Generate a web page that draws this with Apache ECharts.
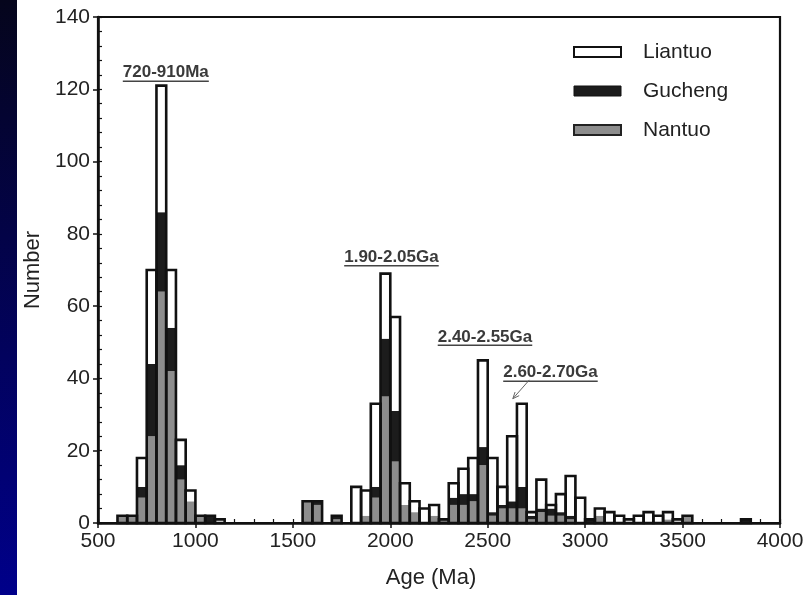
<!DOCTYPE html>
<html>
<head>
<meta charset="utf-8">
<script src="https://cdn.jsdelivr.net/npm/echarts@6/dist/echarts.min.js"></script>
<style>
  html, body { margin: 0; padding: 0; background: #ffffff; }
  #chart { width: 807px; height: 595px; }
</style>
</head>
<body>
<div id="chart"></div>
<script>
// Detrital zircon U-Pb age histogram, 50 Ma bins (bin start ages, Ma)
const binStarts = [600, 650, 700, 750, 800, 850, 900, 950, 1000, 1050,
                   1100, 1550, 1600, 1700, 1800, 1850, 1900, 1950, 2000, 2050,
                   2100, 2150, 2200, 2250, 2300, 2350, 2400, 2450, 2500, 2550,
                   2600, 2650, 2700, 2750, 2800, 2850, 2900, 2950, 3000, 3050,
                   3100, 3150, 3200, 3250, 3300, 3350, 3400, 3450, 3500, 3800];
const binWidth = 50;

// Counts per formation (stacked bottom to top: Nantuo, Gucheng, Liantuo)
const nantuo  = [2, 2, 7, 24, 64, 42, 12, 6, 2, 0,
                 0, 6, 5, 1, 0, 2, 7, 35, 17, 5,
                 3, 0, 2, 1, 5, 5, 6, 16, 2, 4,
                 4, 4, 1, 3, 2, 2, 1, 0, 0, 2,
                 0, 0, 0, 0, 0, 0, 1, 0, 2, 0];
const gucheng = [0, 0, 3, 20, 22, 12, 4, 0, 0, 2,
                 0, 0, 1, 1, 0, 0, 3, 16, 14, 0,
                 0, 0, 0, 0, 2, 3, 2, 5, 1, 1,
                 2, 6, 1, 1, 2, 1, 1, 0, 1, 0,
                 0, 0, 0, 0, 0, 0, 0, 0, 0, 1];
const liantuo = [0, 0, 8, 26, 35, 16, 7, 3, 0, 0,
                 1, 0, 0, 0, 10, 7, 23, 18, 26, 6,
                 3, 4, 3, 0, 4, 7, 10, 24, 15, 5,
                 18, 23, 1, 8, 1, 5, 11, 7, 0, 2,
                 3, 2, 1, 2, 3, 2, 2, 1, 0, 0];

// Axis ticks
const xTicks = [500, 1000, 1500, 2000, 2500, 3000, 3500, 4000];
const yTicks = [0, 20, 40, 60, 80, 100, 120, 140];

// Age-population annotations
const peakLabels = ['720-910Ma', '1.90-2.05Ga', '2.40-2.55Ga', '2.60-2.70Ga'];

const FONT = '"Liberation Sans", Arial, sans-serif';
const colors = { Nantuo: '#8d8d8d', Gucheng: '#1c1c1c', Liantuo: '#ffffff' };

// stacked [start, lower, upper] rows
const layers = [
  { name: 'Nantuo',  values: nantuo },
  { name: 'Gucheng', values: gucheng },
  { name: 'Liantuo', values: liantuo }
];
const cumulative = binStarts.map(() => 0);
const layerData = layers.map(layer => binStarts.map((s, i) => {
  const lo = cumulative[i];
  cumulative[i] += layer.values[i];
  return [s, lo, cumulative[i]];
}));
const totals = binStarts.map((s, i) => [s, 0, cumulative[i]]);

function segmentRenderer(fill) {
  return function (params, api) {
    const s = api.value(0), lo = api.value(1), hi = api.value(2);
    if (hi <= lo) return null;
    const p0 = api.coord([s, lo]);
    const p1 = api.coord([s + binWidth, hi]);
    return {
      type: 'rect',
      shape: { x: p0[0], y: p1[1], width: p1[0] - p0[0], height: p0[1] - p1[1] },
      style: { fill: fill }
    };
  };
}

function outlineRenderer(params, api) {
  const s = api.value(0), hi = api.value(2);
  if (hi <= 0) return null;
  const p0 = api.coord([s, 0]);
  const p1 = api.coord([s + binWidth, hi]);
  return {
    type: 'rect',
    shape: { x: p0[0], y: p1[1], width: p1[0] - p0[0], height: p0[1] - p1[1] },
    style: { fill: 'none', stroke: '#111111', lineWidth: 2.6 }
  };
}

const chart = echarts.init(document.getElementById('chart'), null, { renderer: 'canvas' });

const axisText = { color: '#222222', fontFamily: FONT, fontSize: 21 };

const option = {
  animation: false,
  backgroundColor: '#ffffff',
  textStyle: { fontFamily: FONT },
  grid: {
    left: 98, right: 27, top: 17, bottom: 72,
    show: true, borderColor: '#111111', borderWidth: 2.2, backgroundColor: 'transparent'
  },
  legend: {
    orient: 'vertical',
    left: 573, top: 40,
    padding: 0,
    itemWidth: 47, itemHeight: 10,
    itemGap: 15,
    icon: 'rect',
    selectedMode: false,
    textStyle: { fontFamily: FONT, fontSize: 21, color: '#222222', lineHeight: 24, padding: [0, 0, 0, 17] },
    data: [
      { name: 'Liantuo', itemStyle: { color: colors.Liantuo, borderColor: '#111111', borderWidth: 2 } },
      { name: 'Gucheng', itemStyle: { color: colors.Gucheng, borderColor: '#111111', borderWidth: 1 } },
      { name: 'Nantuo',  itemStyle: { color: colors.Nantuo,  borderColor: '#222222', borderWidth: 2 } }
    ]
  },
  xAxis: [
    {
      type: 'value', min: xTicks[0], max: xTicks[xTicks.length - 1], interval: xTicks[1] - xTicks[0],
      name: 'Age (Ma)', nameLocation: 'middle', nameGap: 44,
      nameTextStyle: { fontFamily: FONT, fontSize: 22, color: '#222222', padding: [0, 16, 0, 0] },
      axisLine: { show: true, onZero: false, lineStyle: { color: '#111111', width: 2.6 } },
      axisTick: { show: true, length: 5, lineStyle: { color: '#111111', width: 1.5 } },
      axisLabel: Object.assign({ margin: 8, formatter: v => String(v) }, axisText),
      splitLine: { show: false }
    },
    {
      type: 'value', min: xTicks[0], max: xTicks[xTicks.length - 1], interval: 100,
      position: 'bottom',
      axisLine: { show: false },
      axisTick: { show: true, inside: true, length: 4, lineStyle: { color: '#111111', width: 1.2 } },
      axisLabel: { show: false },
      splitLine: { show: false }
    }
  ],
  yAxis: [
    {
      type: 'value', min: yTicks[0], max: yTicks[yTicks.length - 1], interval: yTicks[1] - yTicks[0],
      name: 'Number', nameLocation: 'middle', nameGap: 49,
      nameTextStyle: { fontFamily: FONT, fontSize: 22, color: '#222222' },
      axisLine: { show: true, onZero: false, lineStyle: { color: '#111111', width: 2.6 } },
      axisTick: { show: true, length: 5, lineStyle: { color: '#111111', width: 1.5 } },
      axisLabel: Object.assign({ margin: 8, formatter: v => String(v) }, axisText),
      splitLine: { show: false }
    },
    {
      type: 'value', min: yTicks[0], max: yTicks[yTicks.length - 1], interval: 4,
      position: 'left',
      axisLine: { show: false },
      axisTick: { show: true, inside: true, length: 4, lineStyle: { color: '#111111', width: 1.2 } },
      axisLabel: { show: false },
      splitLine: { show: false }
    }
  ],
  series: layers.map((layer, k) => ({
    type: 'custom',
    name: layer.name,
    xAxisIndex: 0, yAxisIndex: 0,
    encode: { x: 0, y: [1, 2] },
    itemStyle: { color: colors[layer.name] },
    renderItem: segmentRenderer(colors[layer.name]),
    data: layerData[k],
    z: 2
  })).concat([{
    type: 'custom',
    name: 'outline',
    xAxisIndex: 0, yAxisIndex: 0,
    encode: { x: 0, y: [1, 2] },
    renderItem: outlineRenderer,
    data: totals,
    z: 3
  }])
};

chart.setOption(option);

// Annotation anchors in (age, count) units: label centre, plus an arrow for the last one
const labelAnchors = [
  [848, 124.6],
  [2006, 73.5],
  [2486, 51.5],
  [2822, 41.6]
];
const arrowFrom = [2714, 39.6];
const arrowTo = [2629, 34.4];

const measureCtx = document.createElement('canvas').getContext('2d');
const labelFont = 'bold 17px ' + FONT;
measureCtx.font = labelFont;

const px = p => chart.convertToPixel({ xAxisIndex: 0, yAxisIndex: 0 }, p);

const graphics = [];
// dark band at the left edge of the slide
graphics.push({
  type: 'rect', left: 0, top: 0, z: -10, silent: true,
  shape: { x: 0, y: 0, width: 17, height: 595 },
  style: {
    fill: new echarts.graphic.LinearGradient(0, 0, 0, 1, [
      { offset: 0, color: '#05051c' },
      { offset: 1, color: '#00008a' }
    ])
  }
});

peakLabels.forEach((t, i) => {
  const c = px(labelAnchors[i]);
  const w = measureCtx.measureText(t).width;
  graphics.push({
    type: 'text', z: 10, silent: true,
    x: c[0], y: c[1],
    style: {
      text: t, fill: '#3a3a3a', font: labelFont,
      align: 'center', verticalAlign: 'middle'
    }
  });
  graphics.push({
    type: 'line', z: 10, silent: true,
    shape: { x1: c[0] - w / 2, y1: c[1] + 8.5, x2: c[0] + w / 2, y2: c[1] + 8.5 },
    style: { stroke: '#444444', lineWidth: 1.5 }
  });
});

const a0 = px(arrowFrom), a1 = px(arrowTo);
graphics.push({
  type: 'line', z: 10, silent: true,
  shape: { x1: a0[0], y1: a0[1], x2: a1[0], y2: a1[1] },
  style: { stroke: '#666666', lineWidth: 1 }
});
{
  const ang = Math.atan2(a1[1] - a0[1], a1[0] - a0[0]);
  const L = 7, spread = 0.4;
  graphics.push({
    type: 'polyline', z: 10, silent: true,
    shape: { points: [
      [a1[0] - L * Math.cos(ang - spread), a1[1] - L * Math.sin(ang - spread)],
      [a1[0], a1[1]],
      [a1[0] - L * Math.cos(ang + spread), a1[1] - L * Math.sin(ang + spread)]
    ] },
    style: { stroke: '#666666', lineWidth: 1, fill: 'none' }
  });
}

chart.setOption({ graphic: graphics });
</script>
</body>
</html>
